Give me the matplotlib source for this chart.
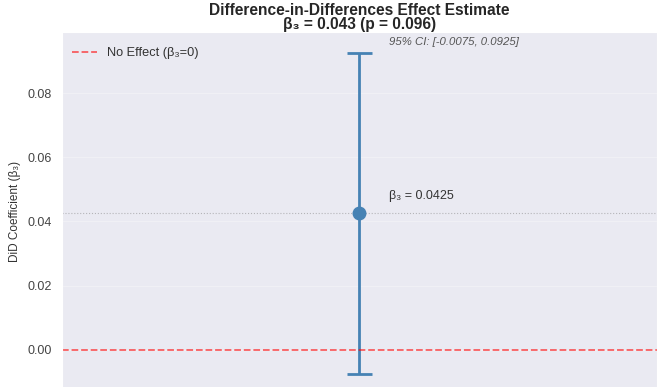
import numpy as np
import matplotlib.pyplot as plt
import seaborn as sns

sns.set_style("darkgrid")
plt.rcParams['font.family'] = ['Liberation Sans', 'DejaVu Sans']

# DiD estimate and its confidence interval
beta3 = 0.0425
ci_low = -0.0075
ci_high = 0.0925
p_value = 0.096

fig = plt.figure(figsize=(6.59, 3.87), dpi=100)
ax = fig.add_axes([0.094, -0.0078, 0.903, 0.925])

err = [[beta3 - ci_low], [ci_high - beta3]]
ax.errorbar([0], [beta3], yerr=err, fmt='o', color='steelblue',
            markersize=9, elinewidth=2, capsize=9, capthick=2)
ax.axhline(0, color='red', linestyle='--', linewidth=1.3, alpha=0.6,
           label='No Effect (β₃=0)')
ax.axhline(beta3, color='gray', linestyle=':', linewidth=0.8, alpha=0.5)

ax.text(0.05, beta3 + 0.0055, f'β₃ = {beta3:.4f}', fontsize=9,
        va='center', color='#333333')
ax.text(0.05, ci_high + 0.0018, f'95% CI: [{ci_low}, {ci_high}]',
        fontsize=8.2, style='italic', color='#555555', va='bottom')

ax.set_xlim(-0.5, 0.5)
ax.set_ylim(-0.0125, 0.099)
ax.set_xticks([])
ax.set_yticks([0.0, 0.02, 0.04, 0.06, 0.08])
ax.grid(True, alpha=0.3)
ax.tick_params(axis='y', labelsize=9, labelcolor='#444444')
ax.set_ylabel('DiD Coefficient (β₃)', fontsize=8.5, color='#333333')
ax.yaxis.set_label_coords(-0.069, 0.5)
ax.set_title(f'Difference-in-Differences Effect Estimate\nβ₃ = {beta3:.3f} (p = {p_value:.3f})',
             fontsize=11.2, fontweight='bold', pad=-3, linespacing=0.95)
leg = ax.legend(loc='upper left', bbox_to_anchor=(0.0, 0.985), fontsize=9.2,
                frameon=False, handlelength=2.0, borderaxespad=0.35)
for t in leg.get_texts():
    t.set_color('#333333')

fig.savefig('out.png', dpi=100)
